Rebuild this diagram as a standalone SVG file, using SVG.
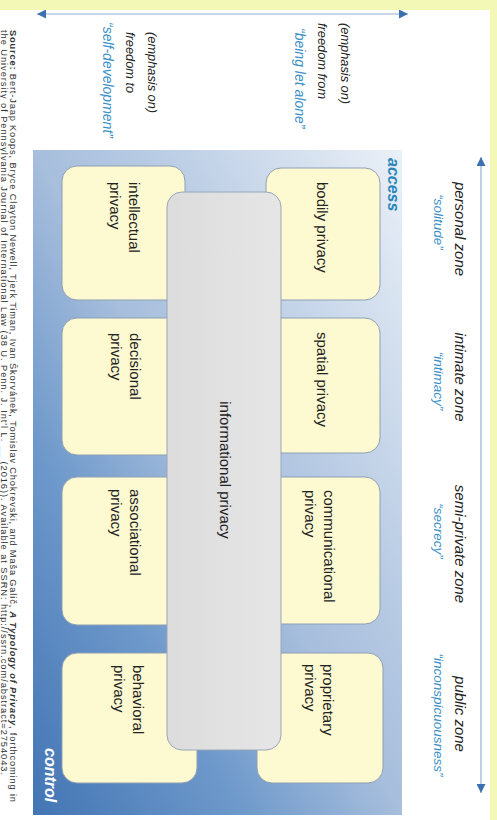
<svg xmlns="http://www.w3.org/2000/svg" width="497" height="820" viewBox="0 0 497 820">
<defs>
  <linearGradient id="blueGrad" x1="0" y1="0" x2="1" y2="1">
    <stop offset="0" stop-color="#eaf0f7"/>
    <stop offset="0.375" stop-color="#b4c8e2"/>
    <stop offset="0.5" stop-color="#a7bedc"/>
    <stop offset="0.72" stop-color="#6d98ca"/>
    <stop offset="1" stop-color="#4375b4"/>
  </linearGradient>
  <linearGradient id="grayGrad" x1="0" y1="0" x2="0" y2="1">
    <stop offset="0" stop-color="#e6e6e6"/>
    <stop offset="1" stop-color="#dcdcdc"/>
  </linearGradient>
  <marker id="ah" viewBox="0 0 10 10" refX="10" refY="5" markerWidth="12" markerHeight="9" markerUnits="userSpaceOnUse" orient="auto-start-reverse">
    <path d="M0,0 L10,5 L0,10 z" fill="#3b70b2"/>
  </marker>
</defs>
<style>
  .box{fill:#fdf9d0;stroke:#8f9fb5;stroke-width:1}
  .info{fill:url(#grayGrad);stroke:#9aa6b6;stroke-width:1}
  .t{font-family:"Liberation Sans",Arial,sans-serif;font-size:15px;fill:#222}
  .zone{font-family:"Liberation Sans",Arial,sans-serif;font-size:15px;font-style:italic;fill:#222}
  .quote{font-family:"Liberation Sans",Arial,sans-serif;font-size:13.5px;font-style:italic;fill:#3b8fc8}
  .lbl{font-family:"Liberation Sans",Arial,sans-serif;font-size:12.8px;font-style:italic;fill:#222}
  .axis{font-family:"Liberation Sans",Arial,sans-serif;font-size:16px;font-style:italic;font-weight:bold}
  .src{font-family:"Liberation Sans",Arial,sans-serif;font-size:9.3px;fill:#333}
  .conn{fill:none;stroke:#8fb0cf;stroke-width:1.2;marker-start:url(#ah);marker-end:url(#ah)}
</style>
<rect width="497" height="820" fill="#f4f8b6"/>
<g transform="translate(497,0) rotate(90)">
  <rect x="10" y="7" width="815" height="495" fill="#ffffff"/>
  <rect id="field" x="150" y="95" width="665" height="369" fill="url(#blueGrad)"/>

  <g id="connectors">
    <line class="conn" x1="14" y1="460" x2="14" y2="89"/>
    <line class="conn" x1="157" y1="16" x2="793" y2="16"/>
  </g>

  <g id="zones">
    <text class="zone" x="229" y="42.5" text-anchor="middle">personal zone</text>
    <text class="quote" x="222" y="63" text-anchor="middle">“solitude”</text>
    <text class="zone" x="377" y="42.5" text-anchor="middle">intimate zone</text>
    <text class="quote" x="381" y="63" text-anchor="middle">“intimacy”</text>
    <text class="zone" x="544" y="42.5" text-anchor="middle">semi-private zone</text>
    <text class="quote" x="531" y="63" text-anchor="middle">“secrecy”</text>
    <text class="zone" x="714" y="42.5" text-anchor="middle">public zone</text>
    <text class="quote" x="715" y="63" text-anchor="middle">“inconspicuousness”</text>
  </g>

  <g id="freedom-from">
    <text class="lbl" x="23" y="156.5">(emphasis on)</text>
    <text class="lbl" x="23" y="179">freedom from</text>
    <text class="quote" x="28" y="202.5" style="font-size:14px">“being let alone”</text>
  </g>
  <g id="freedom-to">
    <text class="lbl" x="32" y="349.5">(emphasis on)</text>
    <text class="lbl" x="32" y="371.5">freedom to</text>
    <text class="quote" x="22" y="394.5" style="font-size:14px">“self-development”</text>
  </g>

  <text id="access" class="axis" x="158" y="109" fill="#2a86b8">access</text>
  <text id="control" class="axis" x="748" y="452" fill="#ffffff">control</text>

  <g id="bodily">
    <rect class="box" x="168" y="117" width="132" height="114" rx="15"/>
    <text class="t" x="182" y="180">bodily privacy</text>
  </g>
  <g id="spatial">
    <rect class="box" x="318" y="117" width="135" height="114" rx="15"/>
    <text class="t" x="332" y="180">spatial privacy</text>
  </g>
  <g id="communicational">
    <rect class="box" x="477" y="117" width="147" height="114" rx="15"/>
    <text class="t" x="490" y="173">communicational<tspan x="490" y="192">privacy</tspan></text>
  </g>
  <g id="proprietary">
    <rect class="box" x="653" y="114" width="130" height="126" rx="15"/>
    <text class="t" x="664" y="174">proprietary<tspan x="664" y="192">privacy</tspan></text>
  </g>
  <g id="intellectual">
    <rect class="box" x="166" y="312" width="134" height="123" rx="15"/>
    <text class="t" x="182" y="368">intellectual<tspan x="182" y="387">privacy</tspan></text>
  </g>
  <g id="decisional">
    <rect class="box" x="318" y="312" width="137" height="123" rx="15"/>
    <text class="t" x="333" y="367">decisional<tspan x="333" y="386">privacy</tspan></text>
  </g>
  <g id="associational">
    <rect class="box" x="477" y="312" width="148" height="123" rx="15"/>
    <text class="t" x="489" y="367">associational<tspan x="489" y="386">privacy</tspan></text>
  </g>
  <g id="behavioral">
    <rect class="box" x="653" y="300" width="130" height="135" rx="15"/>
    <text class="t" x="665" y="364">behavioral<tspan x="665" y="383">privacy</tspan></text>
  </g>

  <g id="informational">
    <rect class="info" x="192" y="216" width="558" height="114" rx="15"/>
    <text class="t" x="470" y="277" text-anchor="middle">informational privacy</text>
  </g>

  <g id="source">
    <text class="src" x="30" y="487" textLength="772" lengthAdjust="spacing"><tspan font-weight="bold">Source:</tspan> Bert-Jaap Koops, Bryce Clayton Newell, Tjerk Timan, Ivan Škorvánek, Tomislav Chokrevski, and Maša Galič, <tspan font-weight="bold" font-style="italic">A Typology of Privacy</tspan>, forthcoming in</text>
    <text class="src" x="30" y="496" textLength="745" lengthAdjust="spacing">the University of Pennsylvania Journal of International Law (38 U. Penn. J. Int'l L. __ (2016)). Available at SSRN: http://ssrn.com/abstract=2754043.</text>
  </g>
</g>
</svg>
